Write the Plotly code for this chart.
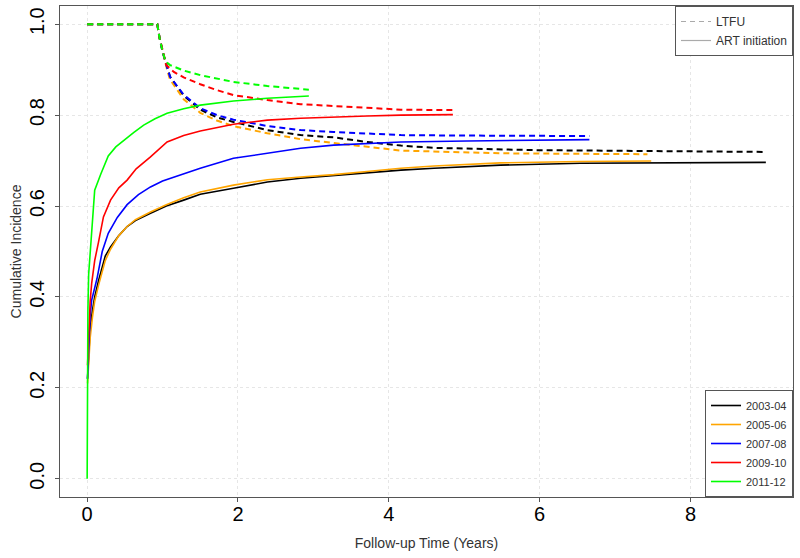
import plotly.graph_objects as go

years = ["2003-04", "2005-06", "2007-08", "2009-10", "2011-12"]
colors = ["#000000", "#FFA500", "#0000FF", "#FF0000", "#00FF00"]

# ART initiation (solid)
art_x_0304 = [0.005, 0.02, 0.04, 0.07, 0.1, 0.15, 0.24, 0.31, 0.42, 0.53, 0.64, 0.84, 1.05, 1.28, 1.5, 1.94, 2.39, 2.83, 3.27, 3.71, 4.16, 4.6, 5.48, 6.54, 7.5, 9.0]
art_y_0304 = [0.22, 0.28, 0.33, 0.37, 0.40, 0.435, 0.49, 0.51, 0.535, 0.555, 0.568, 0.584, 0.600, 0.613, 0.626, 0.639, 0.653, 0.661, 0.667, 0.673, 0.679, 0.683, 0.690, 0.694, 0.695, 0.696]
art_x_0506 = [0.005, 0.02, 0.04, 0.07, 0.1, 0.15, 0.24, 0.31, 0.42, 0.53, 0.64, 0.84, 1.05, 1.28, 1.5, 1.94, 2.39, 2.83, 3.27, 3.71, 4.16, 4.6, 5.48, 6.54, 7.48]
art_y_0506 = [0.21, 0.26, 0.31, 0.355, 0.39, 0.425, 0.48, 0.505, 0.535, 0.555, 0.57, 0.587, 0.603, 0.618, 0.631, 0.646, 0.658, 0.664, 0.669, 0.676, 0.683, 0.688, 0.695, 0.698, 0.699]
art_x_0708 = [0.005, 0.02, 0.04, 0.06, 0.1, 0.13, 0.2, 0.28, 0.4, 0.53, 0.68, 0.84, 1.0, 1.19, 1.5, 1.94, 2.39, 2.83, 3.27, 3.71, 4.16, 5.04, 6.0, 6.66]
art_y_0708 = [0.22, 0.3, 0.36, 0.393, 0.42, 0.44, 0.50, 0.54, 0.575, 0.603, 0.625, 0.642, 0.655, 0.666, 0.683, 0.705, 0.716, 0.727, 0.734, 0.738, 0.741, 0.743, 0.745, 0.746]
art_x_0910 = [0.005, 0.02, 0.04, 0.06, 0.1, 0.15, 0.216, 0.31, 0.42, 0.53, 0.65, 0.84, 1.06, 1.28, 1.5, 1.94, 2.39, 2.83, 3.27, 3.71, 4.16, 4.85]
art_y_0910 = [0.25, 0.313, 0.39, 0.43, 0.48, 0.52, 0.576, 0.613, 0.64, 0.657, 0.682, 0.708, 0.741, 0.755, 0.765, 0.78, 0.789, 0.793, 0.796, 0.798, 0.8, 0.801]
art_x_1112 = [0.0, 0.0, 0.005, 0.01, 0.02, 0.04, 0.07, 0.1, 0.18, 0.28, 0.38, 0.49, 0.62, 0.75, 0.9, 1.06, 1.28, 1.5, 1.94, 2.39, 2.94]
art_y_1112 = [0.0, 0.2, 0.3, 0.37, 0.45, 0.50, 0.57, 0.635, 0.67, 0.71, 0.73, 0.745, 0.762, 0.778, 0.792, 0.804, 0.814, 0.822, 0.831, 0.837, 0.842]

# LTFU (dashed)
ltfu_x_0304 = [0, 0.93, 0.96, 1.0, 1.06, 1.1, 1.28, 1.5, 1.72, 1.94, 2.39, 2.83, 3.27, 3.71, 4.16, 4.6, 5.92, 7.25, 9.0]
ltfu_y_0304 = [1, 1, 0.97, 0.94, 0.905, 0.884, 0.843, 0.812, 0.795, 0.785, 0.767, 0.756, 0.751, 0.741, 0.733, 0.728, 0.723, 0.721, 0.719]
ltfu_x_0506 = [0, 0.93, 0.96, 1.0, 1.06, 1.1, 1.28, 1.5, 1.72, 1.94, 2.39, 2.83, 3.27, 3.71, 4.16, 5.48, 7.43]
ltfu_y_0506 = [1, 1, 0.97, 0.94, 0.9, 0.878, 0.835, 0.805, 0.788, 0.776, 0.76, 0.747, 0.739, 0.73, 0.722, 0.716, 0.714]
ltfu_x_0708 = [0, 0.93, 0.96, 1.0, 1.06, 1.1, 1.28, 1.5, 1.72, 1.94, 2.39, 2.83, 3.27, 3.71, 4.16, 5.0, 6.0, 6.66]
ltfu_y_0708 = [1, 1, 0.97, 0.94, 0.905, 0.884, 0.845, 0.815, 0.80, 0.79, 0.776, 0.767, 0.763, 0.759, 0.756, 0.755, 0.754, 0.754]
ltfu_x_0910 = [0, 0.93, 0.96, 1.0, 1.05, 1.15, 1.28, 1.5, 1.72, 1.94, 2.39, 2.83, 3.27, 3.71, 4.16, 4.85]
ltfu_y_0910 = [1, 1, 0.97, 0.94, 0.91, 0.895, 0.883, 0.868, 0.855, 0.844, 0.833, 0.824, 0.82, 0.815, 0.812, 0.811]
ltfu_x_1112 = [0, 0.93, 0.96, 1.0, 1.04, 1.1, 1.28, 1.5, 1.94, 2.39, 2.94]
ltfu_y_1112 = [1, 1, 0.97, 0.94, 0.918, 0.91, 0.898, 0.888, 0.873, 0.864, 0.856]

art_x = [art_x_0304, art_x_0506, art_x_0708, art_x_0910, art_x_1112]
art_y = [art_y_0304, art_y_0506, art_y_0708, art_y_0910, art_y_1112]
ltfu_x = [ltfu_x_0304, ltfu_x_0506, ltfu_x_0708, ltfu_x_0910, ltfu_x_1112]
ltfu_y = [ltfu_y_0304, ltfu_y_0506, ltfu_y_0708, ltfu_y_0910, ltfu_y_1112]

x_ticks = [0, 2, 4, 6, 8]
y_ticks = [0.0, 0.2, 0.4, 0.6, 0.8, 1.0]
y_tick_labels = ["0.0", "0.2", "0.4", "0.6", "0.8", "1.0"]

fig = go.Figure()

for i, yr in enumerate(years):
    fig.add_trace(go.Scatter(
        x=ltfu_x[i], y=ltfu_y[i], mode="lines", name=yr + " LTFU",
        line=dict(color=colors[i], width=2, dash="6px,4px"),
        showlegend=False, hoverinfo="skip"))
for i, yr in enumerate(years):
    fig.add_trace(go.Scatter(
        x=art_x[i], y=art_y[i], mode="lines", name=yr,
        line=dict(color=colors[i], width=1.6),
        legend="legend2"))

# type legend (gray)
fig.add_trace(go.Scatter(x=[None], y=[None], mode="lines", name="LTFU",
                         line=dict(color="#aaaaaa", width=1.2, dash="5px,4px"),
                         legend="legend"))
fig.add_trace(go.Scatter(x=[None], y=[None], mode="lines", name="ART initiation",
                         line=dict(color="#aaaaaa", width=1.2),
                         legend="legend"))

axis_common = dict(
    showline=True, mirror=True, linecolor="#555555", linewidth=1,
    ticks="outside", ticklen=4, tickcolor="#555555",
    showgrid=True, gridcolor="#e6e6e6", griddash="dot", gridwidth=1,
    zeroline=False, automargin=True,
    tickfont=dict(family="Liberation Sans, Arial, sans-serif", size=20, color="#000000"),
)

fig.update_layout(
    width=800, height=558,
    margin=dict(l=60, r=7, t=6, b=61),
    paper_bgcolor="white", plot_bgcolor="white",
    font=dict(family="Liberation Sans, Arial, sans-serif", color="#333333"),
    xaxis=dict(range=[-0.36, 9.36], tickvals=x_ticks, ticklabelstandoff=-5,
               title=dict(text="Follow-up Time (Years)", font=dict(size=14, color="#333333"), standoff=14),
               **axis_common),
    yaxis=dict(range=[-0.04, 1.04], tickvals=y_ticks, ticktext=y_tick_labels, tickangle=-90,
               ticklabelstandoff=3,
               title=dict(text="Cumulative Incidence", font=dict(size=14, color="#333333"), standoff=1),
               **axis_common),
    legend=dict(x=1, y=1, xanchor="right", yanchor="top",
                bgcolor="white", bordercolor="#555555", borderwidth=1,
                font=dict(size=12, color="#333333"), itemwidth=30),
    legend2=dict(x=1, y=0, xanchor="right", yanchor="bottom",
                 bgcolor="white", bordercolor="#555555", borderwidth=1,
                 font=dict(size=11, color="#333333"), itemwidth=30),
)

fig.write_html("out.html", config={"displayModeBar": False},
               post_script="document.body.style.margin='0px';")
